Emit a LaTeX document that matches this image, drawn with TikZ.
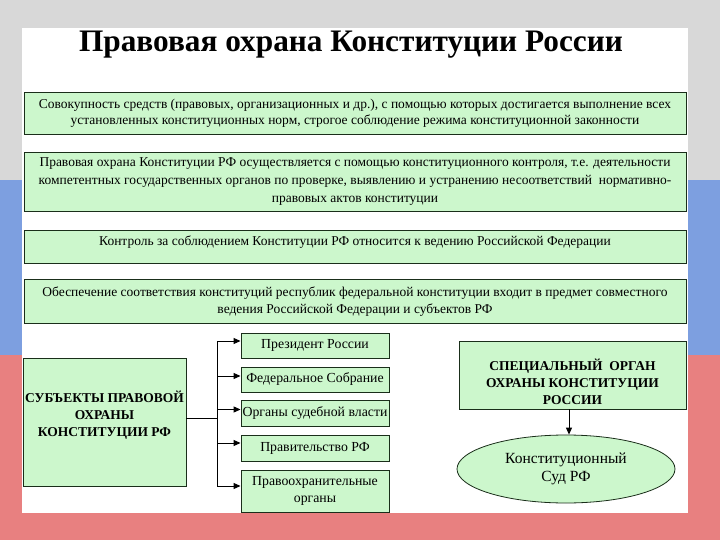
\documentclass[tikz,border=0pt]{standalone}
\usepackage{fontspec}
\setmainfont{Liberation Serif}
\usetikzlibrary{shapes.geometric,arrows.meta}
\definecolor{bggrey}{HTML}{D8D8D8}
\definecolor{flagblue}{HTML}{7D9FE0}
\definecolor{flagred}{HTML}{E88080}
\definecolor{boxgreen}{HTML}{CCF7CC}
\definecolor{edgec}{HTML}{1A2E1A}
\begin{document}
\begin{tikzpicture}[x=1pt,y=-1pt,
  box/.style={draw=edgec,line width=0.9pt,fill=boxgreen,align=center,inner sep=0pt,
    font=\fontsize{13.5}{16.5}\selectfont},
  subbox/.style={box,minimum width=148,font=\fontsize{13.8}{17}\selectfont},
  boldbox/.style={box,font=\fontsize{13.5}{17}\selectfont\bfseries},
  arr/.style={-{Triangle[length=7pt,width=6pt]},line width=1pt,draw=black},
  conn/.style={line width=1pt,draw=black}]
\useasboundingbox (0,0) rectangle (720,540);
% background flag
\fill[bggrey] (0,0) rectangle (720,180);
\fill[flagblue] (0,180) rectangle (720,355);
\fill[flagred] (0,355) rectangle (720,540);
% white panel
\fill[white] (22,28) rectangle (688,513);
% title
\node[font=\fontsize{31.3}{34}\selectfont\bfseries] (title) at (351,45) {Правовая охрана Конституции России};
% top boxes
\node[box,minimum width=662,minimum height=42] (b1) at (355,113.5)
  {Совокупность средств (правовых, организационных и др.), с помощью которых достигается выполнение всех\\
   установленных конституционных норм, строгое соблюдение режима конституционной законности};
\node[box,minimum width=662,minimum height=59,font=\fontsize{13.5}{18}\selectfont] (b2) at (355,181.5)
  {Правовая охрана Конституции РФ осуществляется с помощью конституционного контроля, т.е. деятельности\\
   компетентных государственных органов по проверке, выявлению и устранению несоответствий\ \ нормативно-\\
   правовых актов конституции};
\node[box,minimum width=662,minimum height=33,text depth=12pt] (b3) at (355,246.5)
  {Контроль за соблюдением Конституции РФ относится к ведению Российской Федерации};
\node[box,minimum width=662,minimum height=44,font=\fontsize{13.5}{17}\selectfont] (b4) at (355,301.5)
  {Обеспечение соответствия конституций республик федеральной конституции входит в предмет совместного\\
   ведения Российской Федерации и субъектов РФ};
% left box
\node[boldbox,minimum width=163,minimum height=128,text depth=16pt] (subj) at (104.5,422)
  {СУБЪЕКТЫ ПРАВОВОЙ\\ ОХРАНЫ\\ КОНСТИТУЦИИ РФ};
% sub boxes
\node[subbox,minimum height=25] (s1) at (315,345.5) {Президент России};
\node[subbox,minimum height=25] (s2) at (315,379.5) {Федеральное Собрание};
\node[subbox,minimum height=26] (s3) at (315,413) {Органы судебной власти};
\node[subbox,minimum height=26] (s4) at (315,448) {Правительство РФ};
\node[subbox,minimum height=42] (s5) at (315,491) {Правоохранительные\\ органы};
% connectors
\coordinate (jn) at (217,418);
\draw[conn] (subj.east |- jn) -- (jn);
\draw[conn] (217,341) -- (217,486);
\draw[arr] (jn |- 0,341) -- (s1.west |- 0,341);
\draw[arr] (jn |- 0,376) -- (s2.west |- 0,376);
\draw[arr] (jn |- 0,409.5) -- (s3.west |- 0,409.5);
\draw[arr] (jn |- 0,443) -- (s4.west |- 0,443);
\draw[arr] (jn |- 0,486) -- (s5.west |- 0,486);
% special organ
\node[boldbox,minimum width=227,minimum height=68,text height=60pt] (sp) at (572.5,375)
  {СПЕЦИАЛЬНЫЙ\ \ ОРГАН\\ ОХРАНЫ КОНСТИТУЦИИ\\ РОССИИ};
\node[draw=edgec,line width=0.8pt,fill=boxgreen,ellipse,minimum width=218,minimum height=68,
  inner sep=0pt,align=center,font=\fontsize{15.5}{18}\selectfont] (cs) at (566,469)
  {Конституционный\\ Суд РФ};
\draw[arr] (sp.south -| 569,0) -- (cs.north -| 569,0);
\end{tikzpicture}
\end{document}
